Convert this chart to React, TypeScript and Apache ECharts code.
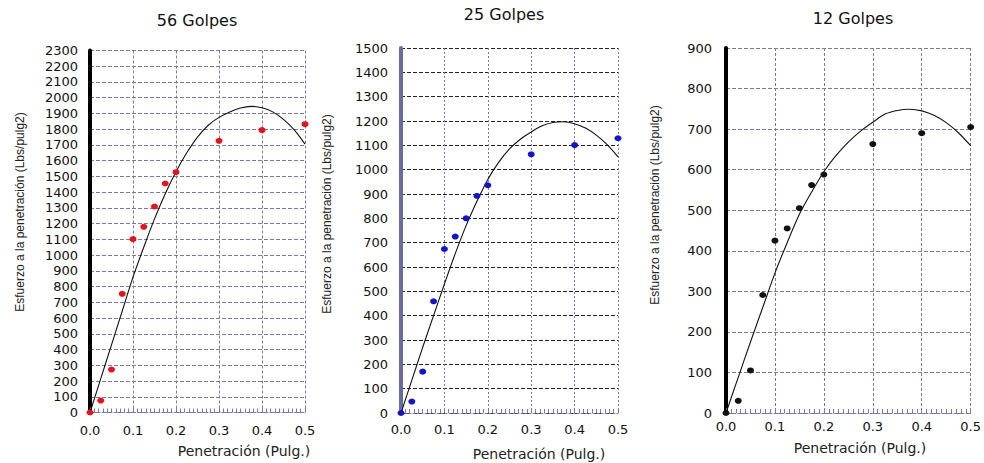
import React, { useEffect, useRef } from "react";
import * as echarts from "echarts";

// Measured data (penetration in inches, stress in Lbs/pulg2)
const penetration = [0, 0.025, 0.05, 0.075, 0.1, 0.125, 0.15, 0.175, 0.2, 0.3, 0.4, 0.5];
const stress56 = [0, 76, 273, 754, 1101, 1180, 1309, 1455, 1527, 1726, 1794, 1832];
const stress25 = [0, 47, 170, 459, 674, 725, 800, 892, 936, 1063, 1101, 1129];
const stress12 = [0, 30, 105, 291, 425, 455, 505, 562, 588, 663, 690, 705];

// Trend line values
const trendX = [0, 0.025, 0.05, 0.075, 0.1, 0.125, 0.15, 0.175, 0.2, 0.225, 0.25, 0.275, 0.3, 0.325, 0.35, 0.375, 0.4, 0.425, 0.45, 0.475, 0.5];
const trend56 = [0, 215, 430, 645, 860, 1050, 1230, 1390, 1530, 1650, 1750, 1825, 1875, 1910, 1935, 1945, 1936, 1910, 1862, 1795, 1705];
const trend25 = [0, 135, 270, 400, 530, 655, 770, 870, 960, 1030, 1085, 1125, 1155, 1180, 1194, 1197, 1189, 1171, 1142, 1103, 1053];
const trend12 = [0, 88, 175, 260, 345, 420, 490, 545, 595, 635, 668, 695, 717, 737, 746, 749, 745, 734, 716, 691, 659];

const titles = ["56 Golpes", "25 Golpes", "12 Golpes"];
const yMax = [2300, 1500, 900];
const xName = "Penetración (Pulg.)";
const yName = "Esfuerzo a la penetración (Lbs/pulg2)";

const GRID_C = "#7a7aa8";

const panels = [
  { grid: { left: 90, top: 50.5, width: 215, height: 362 }, color: "#e3141c", axisColor: "#000", hSplit: GRID_C, labelMarginY: 12, labelMarginX: 11, title: { x: 197, y: 12 }, xn: { x: 244, y: 451 }, yn: { x: 20, y: 212 }, data: stress56, trend: trend56 },
  { grid: { left: 401, top: 48, width: 217, height: 365 }, color: "#1414c8", axisColor: "#6c6c9c", hSplit: "#222", labelMarginY: 13, labelMarginX: 10, title: { x: 504, y: 6.5 }, xn: { x: 539, y: 454 }, yn: { x: 327, y: 214 }, data: stress25, trend: trend25 },
  { grid: { left: 726, top: 48, width: 245, height: 365 }, color: "#111", axisColor: "#000", hSplit: GRID_C, labelMarginY: 14, labelMarginX: 7, title: { x: 853, y: 10 }, xn: { x: 860, y: 448 }, yn: { x: 655, y: 205 }, data: stress12, trend: trend12 },
];

const FONT = "DejaVu Sans";

export default function App() {
  const ref = useRef<HTMLDivElement>(null);
  useEffect(() => {
    const chart = echarts.init(ref.current!, null, { renderer: "svg" });
    const option: any = {
      animation: false,
      backgroundColor: "#fff",
      title: panels.map((p, i) => ({
        text: titles[i],
        left: p.title.x,
        top: p.title.y,
        textAlign: "center",
        padding: 0,
        textStyle: { fontFamily: FONT, fontSize: 16, fontWeight: "normal", color: "#111" },
      })),
      grid: panels.map((p) => ({ ...p.grid, containLabel: false })),
      xAxis: panels.map((p, i) => ({
        type: "value",
        gridIndex: i,
        min: 0,
        max: 0.5,
        interval: 0.1,
        axisLine: { show: true, onZero: false, lineStyle: { color: GRID_C, width: 1, type: [2, 2] } },
        axisTick: { show: true, inside: true, length: 5, lineStyle: { color: GRID_C } },
        minorTick: { show: true, splitNumber: 10, length: 4, lineStyle: { color: GRID_C } },
        splitLine: { show: true, lineStyle: { color: GRID_C, width: 1, type: i === 1 ? [2, 2] : [3, 2] } },
        axisLabel: {
          margin: p.labelMarginX,
          fontFamily: FONT,
          fontSize: 13,
          color: "#111",
          formatter: (v: number) => v.toFixed(1),
        },
      })),
      yAxis: panels.map((p, i) => ({
        type: "value",
        gridIndex: i,
        min: 0,
        max: yMax[i],
        interval: 100,
        axisLine: { show: true, onZero: false, lineStyle: { color: p.axisColor, width: 4 } },
        axisTick: { show: false },
        splitLine: { show: true, lineStyle: { color: p.hSplit, width: 1, type: [4, 2] } },
        axisLabel: {
          margin: p.labelMarginY,
          fontFamily: FONT,
          fontSize: 13,
          color: "#111",
          formatter: (v: number) => String(v),
        },
      })),
      series: panels.flatMap((p, i) => [
        {
          type: "line",
          xAxisIndex: i,
          yAxisIndex: i,
          data: trendX.map((x, k) => [x, p.trend[k]]),
          smooth: 0.3,
          showSymbol: false,
          lineStyle: { color: "#111", width: 1.1 },
          z: 3,
        },
        {
          type: "scatter",
          xAxisIndex: i,
          yAxisIndex: i,
          data: penetration.map((x, k) => [x, p.data[k]]),
          symbol: "circle",
          symbolSize: [7, 6],
          itemStyle: { color: p.color, opacity: 1 },
          z: 4,
        },
      ]),
      graphic: panels.flatMap((p) => [
        {
          type: "text",
          x: p.xn.x,
          y: p.xn.y,
          style: { text: xName, fontFamily: FONT, fontSize: 14, fill: "#222", align: "center", verticalAlign: "middle" },
        },
        {
          type: "text",
          x: p.yn.x,
          y: p.yn.y,
          rotation: Math.PI / 2,
          style: { text: yName, fontFamily: "Liberation Sans", fontSize: 12, fill: "#222", align: "center", verticalAlign: "middle" },
        },
      ]),
    };
    chart.setOption(option);
    return () => chart.dispose();
  }, []);
  return (
    <div
      ref={ref}
      style={{ position: "fixed", left: 0, top: 0, width: 984, height: 463, background: "#fff" }}
    />
  );
}
